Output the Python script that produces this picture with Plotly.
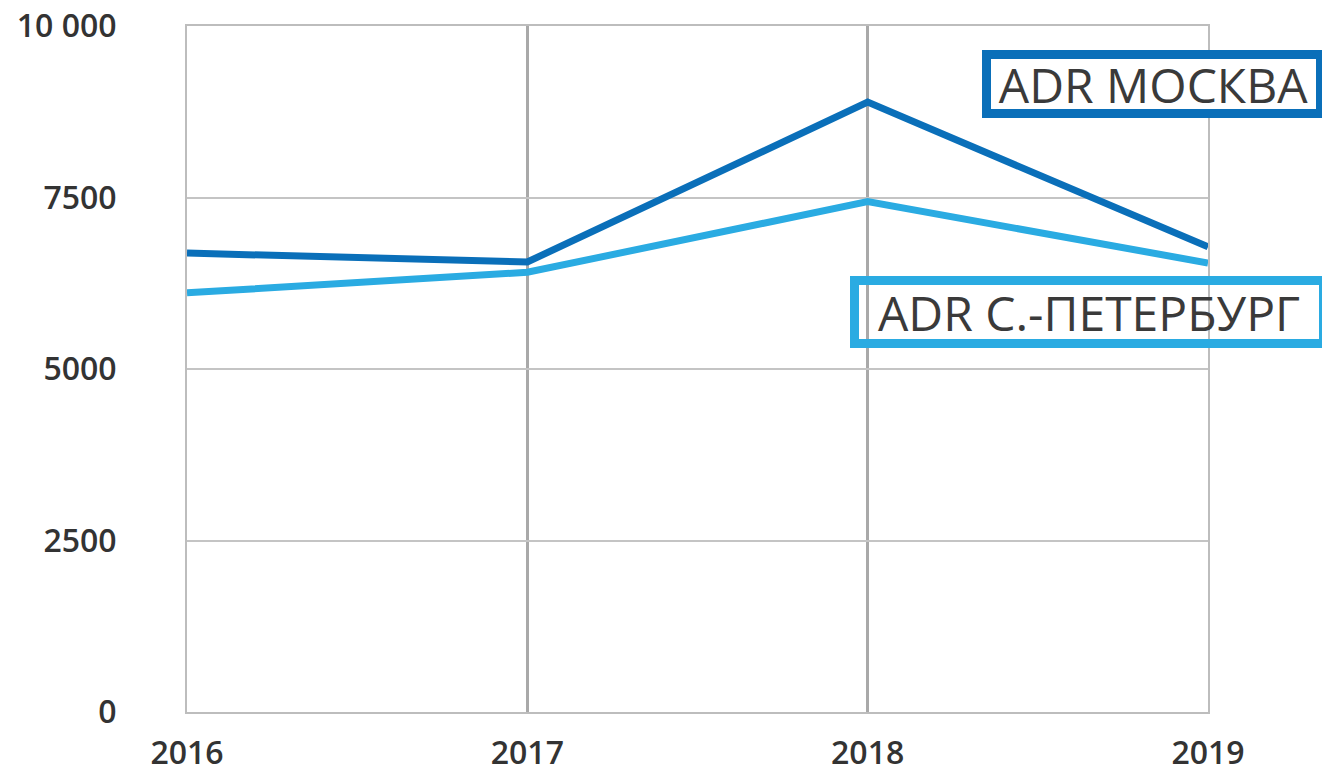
import plotly.graph_objects as go

years = [2016, 2017, 2018, 2019]
adr_moscow = [6690, 6560, 8890, 6780]
adr_spb = [6110, 6410, 7440, 6545]
y_ticks = [0, 2500, 5000, 7500, 10000]
y_tick_labels = ["0", "2500", "5000", "7500", "10 000"]
x_tick_labels = ["2016", "2017", "2018", "2019"]

C_MSK = "#0a6fb9"
C_SPB = "#2aabe2"
TXT = "#333333"

fig = go.Figure()
fig.add_trace(go.Scatter(x=years, y=adr_spb, mode="lines", name="ADR С.-ПЕТЕРБУРГ",
                         line=dict(color=C_SPB, width=7), cliponaxis=False))
fig.add_trace(go.Scatter(x=years, y=adr_moscow, mode="lines", name="ADR МОСКВА",
                         line=dict(color=C_MSK, width=7), cliponaxis=False))

tick_font = dict(size=32, family="Open Sans", weight=600, color=TXT)

fig.update_layout(
    width=1322, height=759,
    margin=dict(l=179, r=122, t=18, b=55),
    paper_bgcolor="white", plot_bgcolor="white",
    showlegend=False,
    font=dict(family="Open Sans", color=TXT),
    xaxis=dict(range=[2016, 2019], tickvals=years, ticktext=x_tick_labels,
               showgrid=True, gridcolor="#a9a9a9", gridwidth=3,
               showline=True, linecolor="#bdbdbd", linewidth=2, mirror=True,
               zeroline=False, ticks="", ticklabelstandoff=12, automargin=False,
               ticklabeloverflow="allow", tickfont=tick_font),
    yaxis=dict(range=[0, 10000], tickvals=y_ticks, ticktext=y_tick_labels,
               showgrid=True, gridcolor="#c4c4c4", gridwidth=2,
               showline=True, linecolor="#bdbdbd", linewidth=2, mirror=True,
               zeroline=False, ticks="", ticklabelstandoff=62, automargin=False,
               ticklabeloverflow="allow", tickfont=tick_font),
    annotations=[
        dict(text="ADR МОСКВА", xref="paper", yref="paper", x=0.9466, y=0.9155,
             xanchor="center", yanchor="middle", showarrow=False,
             font=dict(size=48, family="Open Sans", color="#3a3a3a"),
             bordercolor=C_MSK, borderwidth=9, borderpad=0, bgcolor="white",
             width=325, height=50),
        dict(text="ADR С.-ПЕТЕРБУРГ", xref="paper", yref="paper", x=0.8835, y=0.5838,
             xanchor="center", yanchor="middle", showarrow=False,
             font=dict(size=48, family="Open Sans", color="#3a3a3a"),
             bordercolor=C_SPB, borderwidth=9, borderpad=0, bgcolor="rgba(0,0,0,0)",
             width=460, height=54),
    ],
)

fig.write_html("out.html")
